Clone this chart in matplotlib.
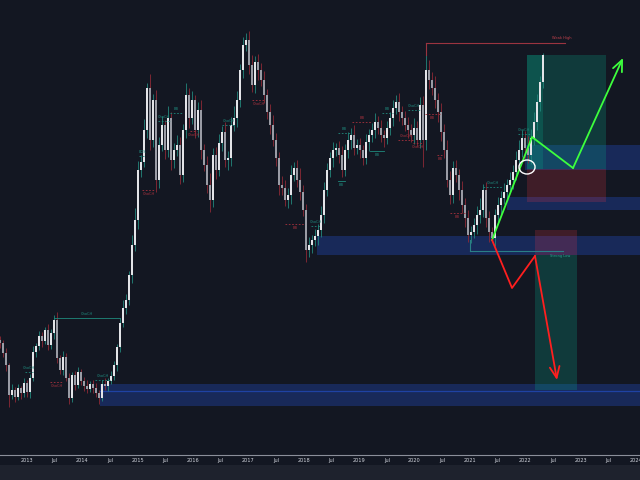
import numpy as np
import matplotlib
matplotlib.use("Agg")
import matplotlib.pyplot as plt
from matplotlib.patches import Rectangle, Ellipse

# ---------------- data ----------------
start_year = 2012.512
step_year = 0.0542  # ~2.8 weeks per candle

closes = [117,107,95,65,70,63,72,67,77,68,
          82,108,114,124,119,130,115,127,140,102,
          90,103,82,62,85,75,88,79,74,71,
          76,72,67,62,76,74,79,84,95,113,
          137,152,160,185,215,240,290,298,330,372,
          320,360,280,315,335,310,342,300,310,315,
          285,330,365,342,360,330,350,310,295,275,
          260,305,290,317,328,300,302,335,342,360,
          390,415,420,395,375,398,390,380,365,348,
          335,320,302,275,272,260,265,285,292,280,
          268,250,210,215,220,224,230,245,270,290,
          302,310,312,305,290,310,320,325,312,315,
          310,302,318,325,330,338,332,325,322,332,
          342,352,358,348,342,335,330,325,332,320,
          355,320,390,380,372,360,348,328,310,280,
          265,292,285,270,255,242,225,228,235,245,
          250,270,242,228,222,245,255,262,268,275,
          280,288,300,310,322,312,305,322,338,358,
          378,405]
upper_wick = [4,3,5,2,6,3,4,2,5,3, 4,6,3,5,4,3,6,4,5,8,
              3,6,4,5,3,4,5,3,4,6, 3,4,5,3,4,6,3,5,4,3,
              5,8,6,4,10,12,9,7,11,5, 14,6,10,8,9,5,12,6,7,10,
              8,6,12,7,9,5,8,10,6,9, 12,7,8,9,6,10,7,8,12,9,
              6,8,7,9,10,6,8,7,9,6, 8,10,7,6,9,8,7,10,6,8,
              12,7,6,8,5,7,6,9,8,7, 6,8,5,7,9,6,8,7,10,6,
              7,5,8,6,7,9,6,8,5,7, 6,8,7,9,6,7,8,6,10,7,
              8,9,25,10,8,12,7,9,8,10, 9,7,8,6,9,7,8,6,7,9,
              12,6,8,7,5,6,8,7,9,6, 8,7,9,10,8,7,12,9,10,8,
              6,2]
lower_wick = [5,4,6,12,4,5,3,6,4,5, 6,3,5,4,6,3,5,4,6,5,
              4,5,3,6,4,5,3,4,5,4, 3,5,4,6,3,4,5,3,4,6,
              5,4,6,5,8,6,9,7,5,8, 10,7,12,8,6,9,7,10,8,6,
              9,7,8,10,6,8,7,9,6,8, 12,7,9,6,8,7,10,8,6,9,
              7,8,6,9,7,8,10,6,8,7, 9,6,8,10,7,6,8,9,6,7,
              8,6,12,7,8,6,9,7,8,6, 7,9,6,8,7,6,8,9,7,6,
              8,7,6,9,7,8,6,7,9,6, 7,8,6,9,7,6,8,7,9,6,
              8,27,10,9,7,8,10,9,8,7, 9,8,7,10,8,9,7,8,6,9,
              8,7,9,10,4,8,7,9,6,8, 7,9,8,6,7,10,8,9,7,8,
              9,6]
first_open = 120

# x-axis tick labels
year_ticks = list(range(2013, 2025))

# structure labels: (date0, date1, price, kind, dotted, text, above)
structures = [
    (2013.488, 2014.680, 142, "bull", False, "ChoCH", True),
    (2013.415, 2013.650, 78, "bear", True, "ChoCH", False),
    (2012.964, 2013.108, 88, "bull", True, "ChoCH", True),
    (2014.228, 2014.499, 80, "bull", True, "ChoCH", True),
    (2015.023, 2015.132, 304, "bull", True, "BOS", True),
    (2015.077, 2015.312, 270, "bear", True, "ChoCH", False),
    (2015.366, 2015.583, 339, "bull", True, "ChoCH", True),
    (2015.583, 2015.818, 347, "bull", True, "BB", True),
    (2015.944, 2016.071, 329, "bear", True, "ChoCH", False),
    (2016.522, 2016.757, 335, "bull", True, "ChoCH", True),
    (2017.064, 2017.299, 360, "bear", True, "ChoCH", False),
    (2017.661, 2018.022, 236, "bear", True, "BB", False),
    (2018.130, 2018.293, 234, "bull", True, "ChoCH", True),
    (2018.618, 2018.744, 279, "bull", False, "BB", False),
    (2018.618, 2018.835, 327, "bull", True, "BB", True),
    (2018.871, 2019.232, 338, "bear", True, "BB", True),
    (2019.196, 2019.449, 309, "bull", False, "BB", False),
    (2019.413, 2019.611, 347, "bull", True, "BB", True),
    (2019.702, 2019.973, 320, "bear", True, "ChoCH", True),
    (2019.882, 2020.099, 350, "bull", True, "ChoCH", True),
    (2019.973, 2020.153, 317, "bear", True, "ChoCH", False),
    (2020.189, 2020.460, 346, "bear", True, "BB", False),
    (2020.400, 2020.520, 305, "bear", True, "BB", False),
    (2020.641, 2020.912, 247, "bear", True, "BB", False),
    (2021.237, 2021.598, 273, "bull", True, "ChoCH", True),
    (2021.869, 2022.086, 326, "bull", True, "ChoCH", True),
]

weak_high = (2020.207, 2022.718, 417, 405)
strong_low = (2021.002, 2022.682, 209, 220)

# zones: (date0, date1, price_lo, price_hi, kind)
zones = [
    (2021.996, 2024.073, 290, 315, "blue"),
    (2021.671, 2024.073, 250, 263, "blue"),
    (2018.238, 2024.073, 205, 224, "blue"),
    (2014.319, 2024.073, 54, 76, "blue"),
    (2022.032, 2023.459, 291, 405, "green"),
    (2022.032, 2022.321, 291, 405, "green"),
    (2022.032, 2023.459, 258, 291, "red"),
    (2022.176, 2022.935, 205, 230, "red"),
    (2022.176, 2022.935, 70, 205, "green"),
]
zone_mid_line = (2014.319, 2024.073, 69)

bull_path_dates = [2021.400, 2022.122, 2022.863, 2023.766]
bull_path_prices = [220, 323, 292, 402]
bear_path_dates = [2021.400, 2021.761, 2022.176, 2022.574]
bear_path_prices = [220, 172, 204, 80]
circle_center = (2022.032, 293)

# ---------------- styling ----------------
BG = "#131722"
TEAL = "#1f8a7e"
RED = "#a8323e"
zone_colors = {"blue": ("#2962ff", 0.25), "green": ("#089981", 0.27), "red": ("#f23645", 0.2)}

fig = plt.figure(figsize=(6.4, 4.8), dpi=100, facecolor=BG)
fig.patches.append(Rectangle((0, 0), 1, 15 / 480, transform=fig.transFigure,
                             facecolor="#1e222d", edgecolor="none", zorder=0))
ax = fig.add_axes([0, 25 / 480, 1, 455 / 480])
ax.set_facecolor(BG)
ax.set_xlim(2012.512, 2024.073)
ax.set_ylim(5, 460)

# zones
for d0, d1, lo, hi, kind in zones:
    c, a = zone_colors[kind]
    ax.add_patch(Rectangle((d0, lo), d1 - d0, hi - lo, facecolor=c, alpha=a,
                           edgecolor="none", zorder=1))
ax.plot(zone_mid_line[:2], [zone_mid_line[2]] * 2, color="#2962ff", alpha=0.45,
        lw=0.9, zorder=1)

# candles
closes_a = np.array(closes, dtype=float)
opens_a = np.concatenate([[first_open], closes_a[:-1]])
dates = start_year + step_year * np.arange(len(closes_a))
tops = np.maximum(opens_a, closes_a)
bots = np.minimum(opens_a, closes_a)
highs = tops + np.array(upper_wick)
lows = bots - np.array(lower_wick)
up = closes_a >= opens_a
ax.vlines(dates[up], lows[up], highs[up], color="#23877c", lw=0.6, zorder=2)
ax.vlines(dates[~up], lows[~up], highs[~up], color="#8e2a36", lw=0.6, zorder=2)
heights = np.maximum(tops - bots, 0.8)
ax.bar(dates[up], heights[up], bottom=bots[up], width=step_year * 0.55,
       color="#e3e4e8", edgecolor="none", zorder=3)
ax.bar(dates[~up], heights[~up], bottom=bots[~up], width=step_year * 0.55,
       color="#9a9ca5", edgecolor="none", zorder=3)

# structure labels
for d0, d1, p, kind, dotted, text, above in structures:
    col = TEAL if kind == "bull" else RED
    ax.plot([d0, d1], [p, p], color=col, lw=0.6, ls=(0, (2, 2)) if dotted else "-", zorder=4)
    ax.annotate(text, ((d0 + d1) / 2, p), xytext=(0, 1.5 if above else -1.5),
                textcoords="offset points", ha="center",
                va="bottom" if above else "top", fontsize=2.6, color=col, zorder=4)

# weak high / strong low
d0, d1, p, p2 = weak_high
ax.plot([d0, d1], [p, p], color="#9b3440", lw=0.8, zorder=4)
ax.plot([d0, d0], [p, p2], color="#9b3440", lw=0.8, zorder=4)
ax.annotate("Weak High", (d1, p), xytext=(-2, 2), textcoords="offset points",
            ha="center", va="bottom", fontsize=2.6, color="#c2404c")
d0, d1, p, p2 = strong_low
ax.plot([d0, d1], [p, p], color="#2a7f86", lw=0.8, zorder=4)
ax.plot([d0, d0], [p, p2], color="#2a7f86", lw=0.8, zorder=4)
ax.annotate("Strong Low", (d1, p), xytext=(-2, -2), textcoords="offset points",
            ha="center", va="top", fontsize=2.6, color="#2a9d8f")

# drawn paths
ax.plot(bull_path_dates[:-1], bull_path_prices[:-1], color="#3dff3d", lw=1.3, zorder=6)
ax.annotate("", xy=(bull_path_dates[-1], bull_path_prices[-1]),
            xytext=(bull_path_dates[-2], bull_path_prices[-2]),
            arrowprops=dict(arrowstyle="->,head_length=0.8,head_width=0.35",
                            color="#3dff3d", lw=1.3, shrinkA=0, shrinkB=0), zorder=6)
ax.plot(bear_path_dates[:-1], bear_path_prices[:-1], color="#ff1f1f", lw=1.3, zorder=6)
ax.annotate("", xy=(bear_path_dates[-1], bear_path_prices[-1]),
            xytext=(bear_path_dates[-2], bear_path_prices[-2]),
            arrowprops=dict(arrowstyle="->,head_length=0.8,head_width=0.35",
                            color="#ff1f1f", lw=1.3, shrinkA=0, shrinkB=0), zorder=6)
ax.add_patch(Ellipse(circle_center, 0.29, 14, facecolor="none", edgecolor="white",
                     lw=1.0, zorder=7))

# axes
ticks, labels = [], []
for y in year_ticks:
    ticks.append(y)
    labels.append(str(y))
    if y < 2024:
        ticks.append(y + 0.5)
        labels.append("Jul")
ax.set_xticks(ticks)
ax.set_xticklabels(labels)
ax.tick_params(axis="x", length=0, pad=2.5, labelsize=3.6, colors="#d1d4dc")
ax.set_yticks([])
for s in ["top", "left", "right"]:
    ax.spines[s].set_visible(False)
ax.spines["bottom"].set_color("#8b8f9a")
ax.spines["bottom"].set_linewidth(0.8)

fig.savefig("out.png", dpi=100, facecolor=BG)
